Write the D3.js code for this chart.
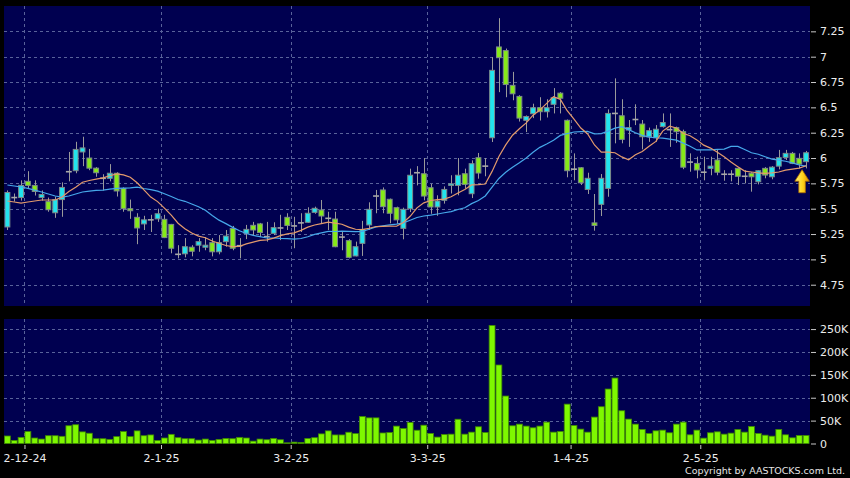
<!DOCTYPE html>
<html><head><meta charset="utf-8">
<script src="https://cdn.jsdelivr.net/npm/d3@7"></script>
<style>html,body{margin:0;padding:0;background:#000;}svg{display:block;}</style>
</head><body><svg id="chart" width="850" height="478"></svg>
<script>
const dates = [
"2024-11-27","2024-11-28","2024-11-29",
"2024-12-02","2024-12-03","2024-12-04","2024-12-05","2024-12-06","2024-12-09","2024-12-10","2024-12-11","2024-12-12","2024-12-13",
"2024-12-16","2024-12-17","2024-12-18","2024-12-19","2024-12-20","2024-12-23","2024-12-24","2024-12-27","2024-12-30","2024-12-31",
"2025-01-02","2025-01-03","2025-01-06","2025-01-07","2025-01-08","2025-01-09","2025-01-10","2025-01-13","2025-01-14","2025-01-15",
"2025-01-16","2025-01-17","2025-01-20","2025-01-21","2025-01-22","2025-01-23","2025-01-24","2025-01-27","2025-01-28",
"2025-02-03","2025-02-04","2025-02-05","2025-02-06","2025-02-07","2025-02-10","2025-02-11","2025-02-12","2025-02-13","2025-02-14",
"2025-02-17","2025-02-18","2025-02-19","2025-02-20","2025-02-21","2025-02-24","2025-02-25","2025-02-26","2025-02-27","2025-02-28",
"2025-03-03","2025-03-04","2025-03-05","2025-03-06","2025-03-07","2025-03-10","2025-03-11","2025-03-12","2025-03-13","2025-03-14",
"2025-03-17","2025-03-18","2025-03-19","2025-03-20","2025-03-21","2025-03-24","2025-03-25","2025-03-26","2025-03-27","2025-03-28","2025-03-31",
"2025-04-01","2025-04-02","2025-04-03","2025-04-07","2025-04-08","2025-04-09","2025-04-10","2025-04-11","2025-04-14","2025-04-15",
"2025-04-16","2025-04-17","2025-04-22","2025-04-23","2025-04-24","2025-04-25","2025-04-28","2025-04-29","2025-04-30",
"2025-05-02","2025-05-06","2025-05-07","2025-05-08","2025-05-09","2025-05-12","2025-05-13","2025-05-14","2025-05-15","2025-05-16",
"2025-05-19","2025-05-20","2025-05-21","2025-05-22","2025-05-23","2025-05-26"];

const opens = [
5.32,5.61,5.61,5.77,5.73,5.61,5.57,5.46,5.59,5.865,
5.875,6.06,6.00,5.90,5.80,5.80,5.85,5.70,5.50,5.415,
5.35,5.39,5.40,5.395,5.345,5.05,5.055,5.12,5.14,5.12,
5.165,5.075,5.175,5.305,5.135,5.257,5.336,5.35,5.225,5.257,
5.31,5.415,5.33,5.36,5.366,5.464,5.487,5.405,5.398,5.22,
5.185,5.034,5.158,5.34,5.625,5.685,5.593,5.51,5.306,5.50,
5.855,5.845,5.707,5.517,5.583,5.73,5.73,5.845,5.648,6.003,
5.92,6.20,7.096,7.06,6.717,6.608,6.372,6.437,6.496,6.457,
6.53,6.64,6.372,5.89,5.904,5.69,5.36,5.543,5.70,6.44,
6.417,6.276,6.38,6.335,6.21,6.20,6.31,6.28,6.30,6.26,
5.96,5.947,5.86,5.898,5.98,5.84,5.84,5.898,5.82,5.85,
5.766,5.898,5.815,5.92,6.006,6.046,5.997,5.964];

const highs = [
5.68,5.65,5.78,5.87,5.78,5.68,5.61,5.62,5.76,6.06,
6.16,6.21,6.09,5.91,5.84,5.94,5.86,5.71,5.59,5.455,
5.43,5.44,5.50,5.44,5.35,5.14,5.21,5.14,5.21,5.22,
5.21,5.24,5.29,5.33,5.21,5.34,5.37,5.36,5.37,5.366,
5.44,5.455,5.42,5.455,5.514,5.52,5.586,5.47,5.47,5.27,
5.20,5.175,5.38,5.563,5.685,5.71,5.60,5.52,5.51,5.895,
5.92,6.00,5.745,5.632,5.72,5.83,6.00,5.895,5.977,6.05,
6.00,6.996,7.38,7.08,6.85,6.62,6.42,6.536,6.60,6.58,
6.69,6.65,6.38,6.046,5.91,5.855,5.645,5.842,6.48,6.786,
6.58,6.375,6.53,6.375,6.30,6.325,6.44,6.44,6.31,6.28,
6.046,6.013,6.013,6.013,6.086,5.88,5.88,5.90,5.88,5.86,
5.88,5.91,5.92,6.08,6.08,6.06,6.046,6.07];

const lows = [
5.29,5.57,5.58,5.70,5.63,5.58,5.47,5.41,5.42,5.77,
5.85,5.92,5.88,5.815,5.68,5.77,5.62,5.47,5.40,5.15,
5.29,5.27,5.37,5.21,5.06,5.01,5.02,5.03,5.075,5.09,
5.03,5.05,5.125,5.09,5.01,5.20,5.24,5.22,5.175,5.24,
5.19,5.29,5.11,5.27,5.36,5.45,5.356,5.29,5.12,5.09,
5.01,5.03,5.034,5.29,5.455,5.455,5.356,5.35,5.198,5.467,
5.73,5.583,5.45,5.43,5.55,5.65,5.632,5.70,5.605,5.796,
5.82,6.158,6.65,6.60,6.57,6.36,6.256,6.394,6.37,6.40,
6.44,6.44,5.81,5.78,5.734,5.645,5.283,5.428,5.618,6.145,
6.145,6.11,6.325,6.086,6.16,6.16,6.30,6.11,6.15,5.89,
5.865,5.80,5.78,5.83,5.83,5.776,5.77,5.734,5.75,5.668,
5.74,5.80,5.79,5.888,5.98,5.94,5.898,5.898];

const closes = [
5.66,5.61,5.73,5.73,5.67,5.64,5.49,5.59,5.71,5.865,
6.085,6.10,5.90,5.855,5.80,5.85,5.675,5.50,5.48,5.31,
5.39,5.39,5.45,5.215,5.11,5.05,5.125,5.08,5.175,5.14,
5.075,5.165,5.23,5.11,5.135,5.296,5.29,5.265,5.225,5.313,
5.31,5.335,5.33,5.36,5.455,5.504,5.428,5.405,5.125,5.22,
5.02,5.125,5.296,5.494,5.625,5.52,5.455,5.39,5.494,5.83,
5.855,5.625,5.517,5.576,5.69,5.745,5.83,5.74,5.944,5.852,
5.92,6.865,6.99,6.725,6.634,6.394,6.41,6.496,6.457,6.496,
6.595,6.59,5.875,5.89,5.756,5.80,5.335,5.80,6.44,6.44,
6.184,6.30,6.38,6.21,6.27,6.284,6.35,6.28,6.26,5.91,
5.96,5.882,5.86,5.92,5.86,5.84,5.84,5.82,5.82,5.815,
5.875,5.832,5.91,6.003,6.046,5.947,5.94,6.052];

const volumes = [
16400,6700,13400,26000,12000,9700,17000,17000,15700,38800,
41000,25400,22400,10400,10400,9000,15000,26000,15000,27600,
17000,18700,6700,12000,20000,12700,10400,10400,7500,9700,
6700,9000,11000,10400,13400,12000,5200,9700,8200,11000,
8200,1500,3000,2200,11000,12700,21000,27600,18700,18700,
24600,21600,59000,56000,56000,23000,23900,38000,32800,46000,
29000,40000,22000,14000,19700,20400,53000,20400,24800,36500,
24000,258000,171500,103700,38700,42300,38000,34300,38000,46700,
24800,26300,86000,39400,31400,24800,57700,80300,119000,143000,
71500,53300,42300,30700,21900,27700,29200,23400,42300,46700,
19000,29200,11700,23400,25500,20400,22600,30700,24800,37200,
21900,18200,16000,30700,19000,12400,17500,17500];

// 10-day and 20-day moving average lines
const ma10 = [
5.576,5.566,5.556,5.566,5.576,5.586,5.586,5.586,5.615,5.670,
5.712,5.761,5.778,5.791,5.804,5.825,5.843,5.834,5.811,5.756,
5.686,5.615,5.570,5.506,5.437,5.357,5.302,5.260,5.230,5.213,
5.181,5.159,5.137,5.126,5.129,5.153,5.170,5.188,5.193,5.210,
5.234,5.251,5.261,5.286,5.318,5.339,5.353,5.367,5.357,5.347,
5.318,5.297,5.294,5.307,5.324,5.326,5.329,5.327,5.364,5.425,
5.508,5.558,5.581,5.589,5.595,5.618,5.655,5.690,5.735,5.737,
5.744,5.868,6.015,6.130,6.225,6.289,6.347,6.423,6.474,6.539,
6.606,6.579,6.467,6.384,6.296,6.237,6.129,6.059,6.058,6.052,
6.011,5.982,6.033,6.065,6.116,6.164,6.266,6.314,6.296,6.243,
6.220,6.179,6.127,6.098,6.057,6.012,5.961,5.915,5.871,5.862,
5.853,5.848,5.853,5.862,5.880,5.891,5.901,5.924];

const ma20 = [
5.734,5.724,5.714,5.700,5.684,5.665,5.645,5.625,5.615,5.625,
5.645,5.665,5.674,5.680,5.684,5.694,5.700,5.704,5.706,5.713,
5.699,5.688,5.674,5.648,5.620,5.591,5.573,5.547,5.520,5.484,
5.434,5.387,5.353,5.316,5.283,5.255,5.236,5.224,5.211,5.211,
5.207,5.205,5.199,5.206,5.223,5.246,5.261,5.277,5.275,5.279,
5.276,5.274,5.277,5.297,5.321,5.332,5.341,5.347,5.360,5.386,
5.413,5.428,5.437,5.448,5.460,5.472,5.492,5.509,5.550,5.581,
5.626,5.713,5.798,5.859,5.910,5.954,6.001,6.057,6.105,6.138,
6.175,6.223,6.241,6.257,6.260,6.263,6.238,6.241,6.266,6.295,
6.309,6.280,6.250,6.224,6.206,6.200,6.197,6.187,6.177,6.147,
6.116,6.080,6.080,6.081,6.086,6.088,6.114,6.115,6.084,6.052,
6.037,6.013,5.990,5.980,5.968,5.952,5.931,5.920];

const priceTicks = [4.75,5,5.25,5.5,5.75,6,6.25,6.5,6.75,7,7.25];
const priceTickLabels = ["4.75","5","5.25","5.5","5.75","6","6.25","6.5","6.75","7","7.25"];
const volumeTicks = [0,50000,100000,150000,200000,250000];
const volumeTickLabels = ["0","50K","100K","150K","200K","250K"];
const dateTicks = ["2024-12-02","2025-01-02","2025-02-03","2025-03-03","2025-04-01","2025-05-02"];
const dateTickLabels = ["2-12-24","2-1-25","3-2-25","3-3-25","1-4-25","2-5-25"];

// ---------- drawing ----------
const W = 850, H = 478;
const plotL = 4, plotR = 809.5, pTop = 6, pBot = 306, vTop = 319, vBot = 443.5;
const NAVY = "#000050", GRID = "#59629a";
const UP = "#22e4ee", DOWN = "#86ea18", DOJI = "#a8a8a8";
const FONT = "DejaVu Sans, Verdana, sans-serif";

const svg = d3.select("#chart");
svg.append("rect").attr("width", W).attr("height", H).attr("fill", "#000");

const x = d3.scaleBand().domain(dates).range([plotL, plotR]).paddingInner(0.14).paddingOuter(0.07);
const bw = x.bandwidth();
const cx = d => x(d) + bw / 2;
const xEdge = d3.scaleLinear().domain([0, dates.length]).range([plotL, plotR]);
const yP = d3.scaleLinear().domain([4.54, 7.5]).range([pBot, pTop]);
const yV = d3.scaleLinear().domain([0, 272000]).range([vBot, vTop]);

// panels
svg.append("rect").attr("x", plotL).attr("y", pTop).attr("width", 810 - plotL).attr("height", pBot - pTop).attr("fill", NAVY);
svg.append("rect").attr("x", plotL).attr("y", vTop).attr("width", 810 - plotL).attr("height", vBot - vTop).attr("fill", NAVY);

const tickIdx = dateTicks.map(d => dates.indexOf(d));
const grid = svg.append("g").attr("stroke", GRID).attr("stroke-width", 1).attr("stroke-dasharray", "3,3").attr("shape-rendering", "crispEdges");
grid.selectAll("line.hp").data(priceTicks).join("line")
  .attr("x1", plotL).attr("x2", 810).attr("y1", d => Math.round(yP(d)) + 0.5).attr("y2", d => Math.round(yP(d)) + 0.5);
grid.selectAll("line.hv").data(volumeTicks.slice(1)).join("line").attr("class","hv")
  .attr("x1", plotL).attr("x2", 810).attr("y1", d => Math.round(yV(d)) + 0.5).attr("y2", d => Math.round(yV(d)) + 0.5);
grid.selectAll("line.vp").data(tickIdx).join("line").attr("class","vp")
  .attr("x1", i => Math.round(xEdge(i)) + 0.5).attr("x2", i => Math.round(xEdge(i)) + 0.5).attr("y1", pTop).attr("y2", pBot);
grid.selectAll("line.vv").data(tickIdx).join("line").attr("class","vv")
  .attr("x1", i => Math.round(xEdge(i)) + 0.5).attr("x2", i => Math.round(xEdge(i)) + 0.5).attr("y1", vTop).attr("y2", vBot);

// volume bars
svg.append("g").selectAll("rect").data(dates).join("rect")
  .attr("x", d => x(d)).attr("width", bw)
  .attr("y", (d, i) => yV(volumes[i])).attr("height", (d, i) => vBot - yV(volumes[i]))
  .attr("fill", "#7ef800").attr("stroke", "#3f8a00").attr("stroke-width", 0.8);

// candles
const cg = svg.append("g");
cg.selectAll("line.wick").data(dates).join("line").attr("class", "wick")
  .attr("x1", d => Math.round(cx(d)) + 0.5).attr("x2", d => Math.round(cx(d)) + 0.5)
  .attr("y1", (d, i) => yP(highs[i])).attr("y2", (d, i) => yP(lows[i]))
  .attr("stroke", "#9a9a9a").attr("stroke-width", 1);
cg.selectAll("rect.body").data(dates.filter((d, i) => opens[i] !== closes[i])).join("rect").attr("class", "body")
  .each(function (d) {
    const i = dates.indexOf(d);
    const top = yP(Math.max(opens[i], closes[i])), bot = yP(Math.min(opens[i], closes[i]));
    d3.select(this).attr("x", x(d) + 0.5).attr("width", bw - 1)
      .attr("y", top).attr("height", Math.max(1.5, bot - top))
      .attr("fill", closes[i] > opens[i] ? UP : DOWN)
      .attr("stroke", "#7d8a8a").attr("stroke-width", 1);
  });
cg.selectAll("line.doji").data(dates.filter((d, i) => opens[i] === closes[i])).join("line").attr("class", "doji")
  .attr("x1", d => x(d)).attr("x2", d => x(d) + bw)
  .attr("y1", d => yP(closes[dates.indexOf(d)])).attr("y2", d => yP(closes[dates.indexOf(d)]))
  .attr("stroke", DOJI).attr("stroke-width", 1.6);

// moving averages
const line = d3.line().x((v, i) => cx(dates[i])).y(v => yP(v));
svg.append("path").datum(ma20).attr("d", line).attr("fill", "none").attr("stroke", "#46a8ea").attr("stroke-width", 1.2);
svg.append("path").datum(ma10).attr("d", line).attr("fill", "none").attr("stroke", "#e39a6c").attr("stroke-width", 1.2);

// marker arrow under last price
const last = dates[dates.length - 1];
const ax = cx(last) - 4, ay = yP(ma10[ma10.length - 1]) + 4;
const defs = svg.append("defs");
const gr = defs.append("linearGradient").attr("id", "ag").attr("x1", 0).attr("x2", 1).attr("y1", 0).attr("y2", 0);
gr.append("stop").attr("offset", "0%").attr("stop-color", "#fff27a");
gr.append("stop").attr("offset", "55%").attr("stop-color", "#ffd21a");
gr.append("stop").attr("offset", "100%").attr("stop-color", "#e08a00");
svg.append("path")
  .attr("d", d3.line()([[ax, ay], [ax + 7.3, ay + 11.5], [ax + 3.3, ay + 11.5], [ax + 3.3, ay + 23], [ax - 3.3, ay + 23], [ax - 3.3, ay + 11.5], [ax - 7.3, ay + 11.5]]) + "Z")
  .attr("fill", "url(#ag)").attr("stroke", "#a86a00").attr("stroke-width", 0.8);

// axes
function styleAxis(g) {
  g.select(".domain").remove();
  g.selectAll(".tick line").attr("stroke", "#c8c8c8");
  g.selectAll(".tick text").attr("fill", "#ececec").style("font-family", FONT).style("font-size", "11px");
}
svg.append("g").attr("transform", "translate(811,0)")
  .call(d3.axisRight(yP).tickValues(priceTicks).tickSize(5).tickPadding(4).tickFormat((d, i) => priceTickLabels[i]))
  .call(styleAxis);
svg.append("g").attr("transform", "translate(811,0)")
  .call(d3.axisRight(yV).tickValues(volumeTicks).tickSize(5).tickPadding(4).tickFormat((d, i) => volumeTickLabels[i]))
  .call(styleAxis);
svg.append("g").attr("transform", "translate(0,445)")
  .call(d3.axisBottom(xEdge).tickValues(tickIdx).tickSize(4).tickPadding(5).tickFormat((d, i) => dateTickLabels[i]))
  .call(styleAxis);

svg.append("text").attr("x", 845).attr("y", 474).attr("text-anchor", "end")
  .attr("fill", "#e6e6e6").style("font-family", FONT).style("font-size", "9.5px")
  .text("Copyright by AASTOCKS.com Ltd.");
</script>
</body></html>
